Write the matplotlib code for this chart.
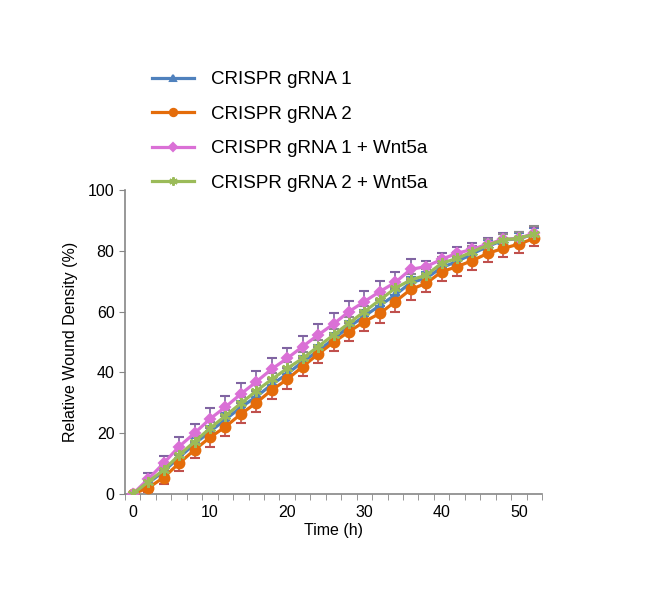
import matplotlib
matplotlib.use("Agg")
import matplotlib.pyplot as plt
import numpy as np

# ================= DATA =================

time_h = list(range(0, 53, 2))

grna1 = [0, 3.5, 7.5, 12, 16.5, 20.5, 24.5, 28.5, 32, 36, 39.5, 43.5, 47, 51,
         55, 58.5, 62, 65.5, 69.5, 71, 74.5, 76.5, 79, 81.5, 83.5, 84, 85.5]
grna2 = [0, 2, 5.4, 10.1, 14.5, 18.6, 22.1, 26.3, 30, 34.2, 37.7, 41.9, 46,
         49.9, 53.4, 56.7, 59.4, 63.3, 67.3, 69.3, 73.1, 74.8, 76.8, 79.2, 80.8, 82.2, 84.1]
grna1_wnt = [0, 4.9, 10.1, 15.6, 20, 24.7, 28.6, 32.9, 36.9, 41.1, 44.6, 48.5, 52.3,
             55.9, 60, 63.3, 66.6, 69.6, 73.9, 74.8, 77.2, 79.2, 80.5, 82.2, 83.8, 84.1, 85.8]
grna2_wnt = [0, 4, 7.9, 12.8, 17.2, 21.6, 25.7, 29.8, 33.9, 37.7, 41.3, 44.6, 48.5,
             52.3, 56.2, 60, 63.8, 67.7, 70.4, 72, 75.9, 77.5, 79.7, 81.9, 83.6, 84.1, 85.5]

err_grna1 = [0, 1, 1.5, 2, 2, 2, 2, 2, 2, 2, 2, 2, 2, 2, 2, 2, 2, 2, 2, 2, 2, 2, 2, 2, 2, 2, 2]
err_grna2 = [0, 1.5, 2, 2.5, 2.5, 3, 3, 3, 3, 3, 3, 3, 3, 3, 3, 3, 3, 3.5, 3.5, 3, 3, 3, 3, 3, 3, 3, 2.5]
err_grna1_wnt = [0, 2, 2.5, 3, 3, 3.5, 3.5, 3.5, 3.5, 3.5, 3.5, 3.5, 3.5, 3.5, 3.5, 3.5, 3.5,
                 3.5, 3.5, 2, 2, 2, 2, 2, 2, 2, 2]
err_grna2_wnt = [0, 1, 1.5, 1.5, 2, 2, 2, 2, 2, 2, 2, 2, 2, 2, 2, 2, 2, 2, 2, 2, 2, 2, 2, 2, 2, 2, 2.5]

labels = ["CRISPR gRNA 1", "CRISPR gRNA 2", "CRISPR gRNA 1 + Wnt5a", "CRISPR gRNA 2 + Wnt5a"]

# ================= PLOT =================

plt.rcParams["font.family"] = ["Liberation Sans", "DejaVu Sans"]

fig = plt.figure(figsize=(6.54, 5.96), dpi=100)
ax = fig.add_axes([125 / 654, 1 - 494 / 596, (542 - 125) / 654, (494 - 190) / 596])

series = [
    (grna1, err_grna1, "#4F81BD", "^", 6, "upper", "#4F81BD"),
    (grna2, err_grna2, "#E46C0A", "o", 7, "lower", "#C0504D"),
    (grna1_wnt, err_grna1_wnt, "#DA70D6", "D", 5.5, "upper", "#8064A2"),
    (grna2_wnt, err_grna2_wnt, "#9BBB59", (6, 2, 0), 8, "upper", "#8C8C8C"),
]

handles = []
for (vals, err, col, mk, ms, side, ecol), lab in zip(series, labels):
    vals = np.array(vals)
    err = np.array(err)
    if side == "upper":
        yerr = [np.zeros_like(err), err]
    else:
        yerr = [err, np.zeros_like(err)]
    ax.errorbar(time_h, vals, yerr=yerr, fmt="none", ecolor=ecol,
                elinewidth=1.2, capsize=3.5, capthick=1.5, zorder=2)
    h, = ax.plot(time_h, vals, color=col, lw=2.3, marker=mk, ms=ms,
                 mec=col, mfc=col, mew=1.5, label=lab, zorder=3)
    handles.append(h)

ax.set_xlim(-1, 53)
ax.set_ylim(0, 100)
ax.set_yticks(range(0, 101, 20))
ax.set_xticks(range(0, 51, 10))
ax.set_xticks(range(-1, 54, 2), minor=True)
ax.tick_params(axis="x", which="major", length=0, labelsize=11.5, pad=8)
ax.tick_params(axis="x", which="minor", length=4, color="#868686", direction="out")
ax.tick_params(axis="y", length=4, color="#868686", labelsize=11.5)

for s in ["top", "right"]:
    ax.spines[s].set_visible(False)
for s in ["left", "bottom"]:
    ax.spines[s].set_color("#868686")
    ax.spines[s].set_linewidth(1.2)

ax.set_xlabel("Time (h)", fontsize=11.5, labelpad=2)
ax.set_ylabel("Relative Wound Density (%)", fontsize=11.5, labelpad=7)

fig.legend(handles=handles, labels=labels, loc="upper left",
           bbox_to_anchor=(152 / 654, 1 - 71 / 596), frameon=False,
           fontsize=13.5, handlelength=2.25, handletextpad=0.9,
           labelspacing=0.93, borderpad=0, borderaxespad=0, markerscale=0.75)

fig.savefig("out.png", dpi=100)
